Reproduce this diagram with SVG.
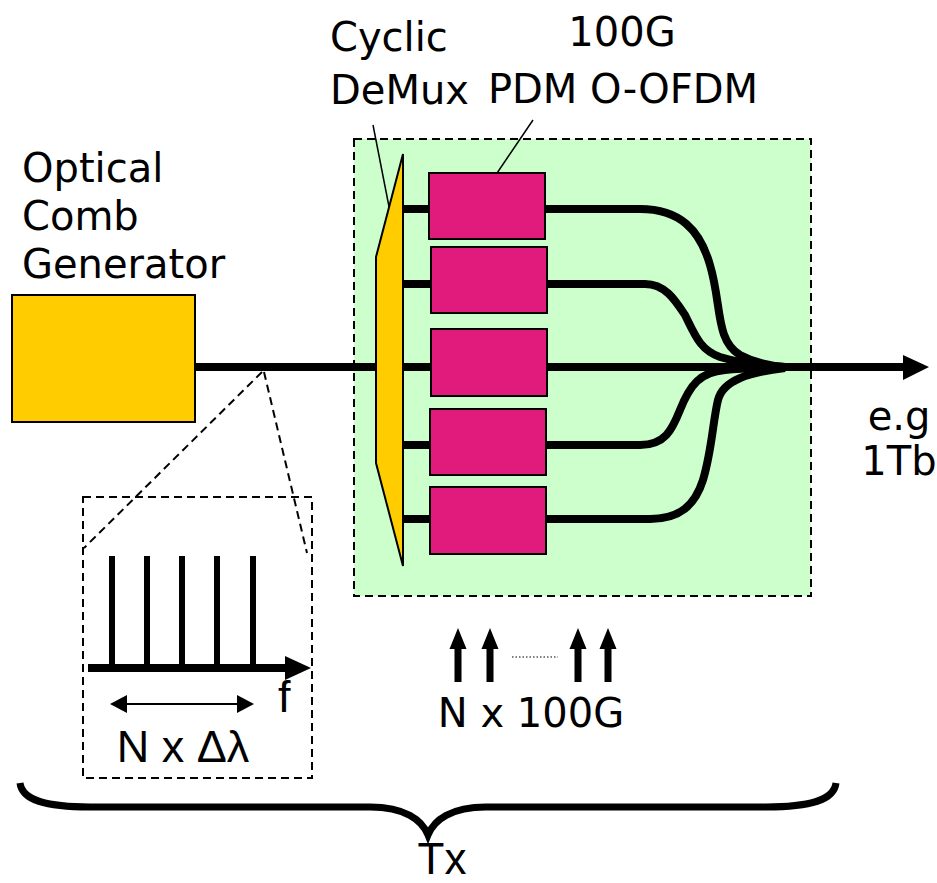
<svg xmlns="http://www.w3.org/2000/svg" width="937" height="883" viewBox="0 0 937 883">
<defs>
<style>
.lbl{font-family:"DejaVu Sans","Liberation Sans",sans-serif;font-size:40px;fill:#000}
.lbl2{font-family:"Liberation Sans",Arial,sans-serif;fill:#000}
.mod{fill:#E01B7B;stroke:#000;stroke-width:2}
.fiber{fill:none;stroke:#000;stroke-width:8}
.dash{fill:none;stroke:#000;stroke-width:2;stroke-dasharray:8 5}
.thin{fill:none;stroke:#000;stroke-width:1.5}
</style>
</defs>
<rect width="937" height="883" fill="#fff"/>

<g id="tx-box">
<rect x="354" y="139" width="457" height="457" fill="#CCFFCC"/>
</g>

<g id="connectors">
<line x1="195" y1="367" x2="905" y2="367" class="fiber" stroke-width="7"/>
<polygon points="903,355 929,367 903,380" fill="#000"/>
<line x1="403" y1="209" x2="430" y2="209" class="fiber"/>
<line x1="403" y1="284" x2="432" y2="284" class="fiber"/>
<line x1="403" y1="445" x2="431" y2="445" class="fiber"/>
<line x1="403" y1="519" x2="431" y2="519" class="fiber"/>
<path class="fiber" d="M545,209 L640,209 C680,209 700,230 710,265 C722,305 715,340 740,355 C755,363 770,366 785,367"/>
<path class="fiber" d="M547,284 L645,284 C665,284 675,300 685,315 C695,335 700,350 720,357 C740,363 760,366 785,367"/>
<path class="fiber" d="M546,445 L640,445 C665,445 672,430 680,410 C690,385 700,372 725,370 C745,368 765,368 785,367"/>
<path class="fiber" d="M546,519 L650,519 C680,519 695,505 703,480 C712,450 713,420 718,400 C723,380 750,372 785,368"/>
<line x1="373" y1="125" x2="392" y2="222" class="thin"/>
<line x1="533" y1="120" x2="491" y2="182" class="thin"/>
<line x1="262" y1="372" x2="84" y2="548" class="dash" stroke-width="1.8"/>
<line x1="264" y1="372" x2="307" y2="553" class="dash" stroke-width="1.8"/>
</g>

<g id="tx-border">
<rect x="354" y="139" width="457" height="457" class="dash"/>
</g>

<g id="demux">
<polygon points="403,154 376,257 376,463 403,566" fill="#FFCC00" stroke="#000" stroke-width="2"/>
</g>

<g id="mod1"><rect x="429" y="173" width="116" height="66" class="mod"/></g>
<g id="mod2"><rect x="431" y="247" width="116" height="66" class="mod"/></g>
<g id="mod3"><rect x="431" y="329" width="116" height="67" class="mod"/></g>
<g id="mod4"><rect x="430" y="409" width="116" height="66" class="mod"/></g>
<g id="mod5"><rect x="430" y="487" width="116" height="67" class="mod"/></g>

<g id="comb">
<rect x="12" y="295" width="183" height="127" fill="#FFCC00" stroke="#000" stroke-width="2"/>
<text class="lbl" x="22" y="182" font-size="37">Optical</text>
<text class="lbl" x="22" y="230" font-size="37">Comb</text>
<text class="lbl" x="22" y="278" font-size="37">Generator</text>
</g>

<g id="labels">
<text class="lbl" x="330" y="51">Cyclic</text>
<text class="lbl" x="330" y="104">DeMux</text>
<text class="lbl" x="622" y="46" text-anchor="middle">100G</text>
<text class="lbl" x="623" y="103" text-anchor="middle">PDM O-OFDM</text>
<text class="lbl" x="899" y="430" text-anchor="middle">e.g</text>
<text class="lbl" x="899" y="475" text-anchor="middle">1Tb</text>
</g>

<g id="spectrum">
<rect x="83" y="497" width="229" height="281" class="dash" stroke-width="1.8"/>
<g stroke="#000" stroke-width="6">
<line x1="112" y1="556" x2="112" y2="668"/>
<line x1="147" y1="556" x2="147" y2="668"/>
<line x1="182" y1="556" x2="182" y2="668"/>
<line x1="217" y1="556" x2="217" y2="668"/>
<line x1="253" y1="556" x2="253" y2="668"/>
</g>
<line x1="88" y1="668" x2="288" y2="668" stroke="#000" stroke-width="8"/>
<polygon points="285,656 311,668 285,680" fill="#000"/>
<line x1="124" y1="704" x2="240" y2="704" stroke="#000" stroke-width="2"/>
<polygon points="110,704 127,695 127,713" fill="#000"/>
<polygon points="254,704 237,695 237,713" fill="#000"/>
<text class="lbl2" x="278" y="712" font-size="45">f</text>
<text class="lbl2" x="183" y="762" font-size="45" text-anchor="middle">N x Δλ</text>
</g>

<g id="inputs">
<polygon points="458,628 466.5,649 461.5,649 461.5,682 454.5,682 454.5,649 449.5,649" fill="#000"/>
<polygon points="490,628 498.5,649 493.5,649 493.5,682 486.5,682 486.5,649 481.5,649" fill="#000"/>
<polygon points="578,628 586.5,649 581.5,649 581.5,682 574.5,682 574.5,649 569.5,649" fill="#000"/>
<polygon points="608,628 616.5,649 611.5,649 611.5,682 604.5,682 604.5,649 599.5,649" fill="#000"/>
<line x1="512" y1="657" x2="558" y2="657" stroke="#000" stroke-width="1.2" stroke-dasharray="1.5 2"/>
<text class="lbl" x="531" y="727" text-anchor="middle" font-size="38">N x 100G</text>
</g>

<g id="brace">
<path d="M20,783 C22,800 45,807 90,807 L370,807 C405,807 422,820 428,835 C434,820 451,807 486,807 L766,807 C811,807 834,800 836,783" fill="none" stroke="#000" stroke-width="7" stroke-linejoin="miter"/>
<text class="lbl2" x="442" y="874" font-size="44" text-anchor="middle">Tx</text>
</g>
</svg>
